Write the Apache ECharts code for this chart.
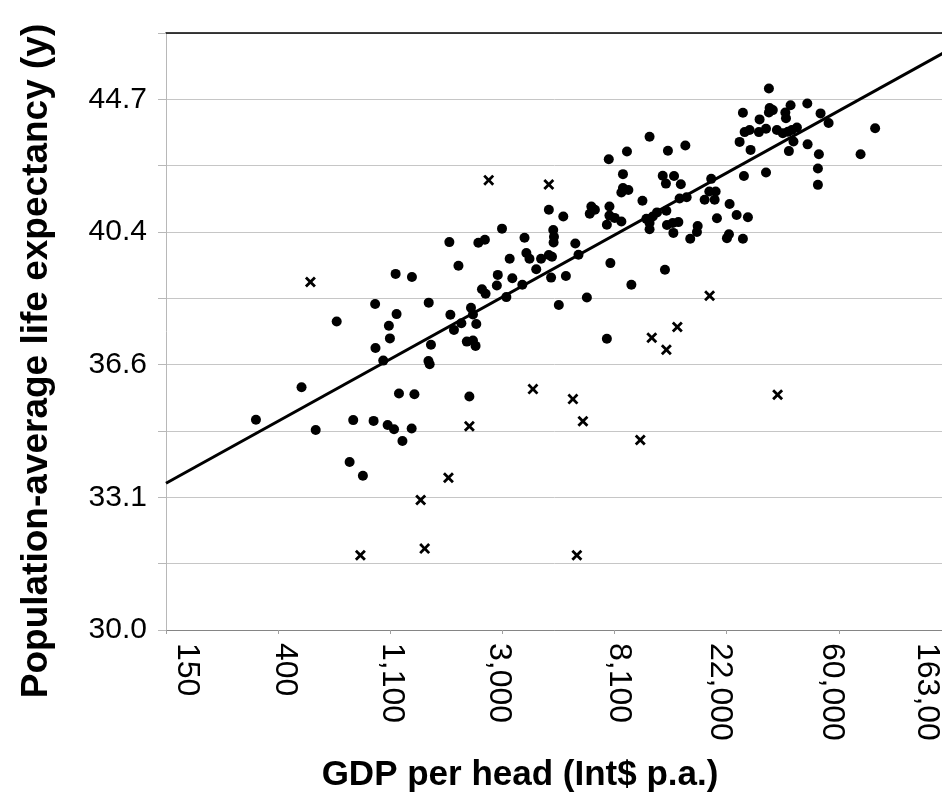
<!DOCTYPE html>
<html>
<head>
<meta charset="utf-8">
<script src="https://cdn.jsdelivr.net/npm/echarts@6/dist/echarts.min.js"></script>
<style>
html,body{margin:0;padding:0;background:#fff;}
#chart{width:942px;height:794px;}
</style>
</head>
<body>
<div id="chart"></div>
<script>
// ---- data ----
const xTickLabels = ['150', '400', '1,100', '3,000', '8,100', '22,000', '60,000', '163,00'];

const gdpDots = [1150, 1330, 958, 1160, 680, 1083, 1093, 961, 1030, 497, 1185, 1360, 331, 564, 788, 945, 1071, 1134, 1327, 1222, 763, 859,
  4510, 5130, 4690, 4720, 4705, 5710, 2970, 3630, 2550, 2405, 1857, 2014, 3180, 3690, 3794, 4207, 4508, 4638, 4030, 2860, 2836, 3256, 3560, 4600, 5250, 2484, 2565, 3087, 4928, 1545, 1874, 2252, 2292, 2067, 2361, 1935,
  1576, 2170, 2292, 2346, 1541, 1558, 2220,
  11070, 9050, 7695, 13040, 15230, 24710, 8733, 12450, 13770, 12810, 14630, 8733, 9164, 8610, 19180, 18860, 19960, 18090, 19780, 22600, 24060, 10390, 14470, 15410, 6587, 6800, 6494, 7741, 7741, 8110, 8610, 7565, 10760, 11390, 11830, 12860, 11070, 11070, 12930, 13610, 14310, 13690, 17000, 16890, 15910, 20190, 22470, 22070, 5875, 7807, 12700, 9413, 6330, 7565,
  32090, 25450, 32290, 33220, 32090, 38930, 45190, 37150, 37370, 29530, 50860, 54640, 25840, 27010, 29350, 31270, 34460, 36320, 38010, 39370, 41190, 82740, 27250, 39940, 38350, 45310, 50110, 72660, 49670, 49670, 25680, 31270, 26610, 25450];

const lifeDots = [39.19, 39.10, 38.31, 38.02, 37.81, 37.69, 37.33, 37.06, 36.71, 35.98, 35.81, 35.79, 35.11, 34.84, 35.10, 35.08, 34.97, 34.86, 34.88, 34.55, 34.01, 33.66,
  41.13, 40.92, 40.51, 40.30, 40.13, 40.10, 40.55, 40.27, 40.21, 40.12, 40.14, 39.43, 39.64, 39.81, 39.64, 39.64, 39.75, 39.70, 39.33, 39.16, 38.85, 39.06, 38.87, 39.08, 39.13, 38.74, 38.61, 38.51, 38.28, 38.35, 38.00, 38.20, 38.01, 37.76, 37.74, 37.57,
  37.15, 37.24, 37.27, 37.12, 36.70, 36.61, 35.73,
  43.46, 42.98, 42.73, 43.00, 43.17, 43.29, 42.25, 42.20, 42.19, 41.95, 41.93, 41.81, 41.75, 41.67, 42.10, 41.70, 41.70, 41.44, 41.44, 41.31, 40.97, 41.41, 41.48, 41.52, 41.23, 41.13, 41.01, 41.23, 40.95, 40.88, 40.77, 40.67, 40.85, 40.92, 41.05, 41.10, 40.72, 40.53, 40.66, 40.72, 40.75, 40.42, 40.63, 40.45, 40.24, 40.87, 40.38, 40.26, 39.76, 39.51, 39.31, 38.87, 38.50, 37.32,
  45.07, 44.25, 44.41, 44.34, 44.26, 44.50, 44.56, 44.26, 44.07, 44.03, 44.23, 43.91, 43.61, 43.68, 43.61, 43.72, 43.68, 43.57, 43.62, 43.68, 43.76, 43.74, 43.03, 43.30, 42.99, 43.21, 42.89, 42.89, 42.43, 41.91, 42.19, 42.30, 40.90, 40.24];

const gdpCrosses = [538, 840, 1438, 1490, 2638, 4508, 3913, 5589, 6110, 2220, 1842, 5789, 18910, 11290, 14180, 12860, 10190, 34680];
const lifeCrosses = [38.95, 31.70, 33.05, 31.86, 42.06, 41.92, 35.93, 35.66, 35.07, 34.94, 33.61, 31.70, 38.55, 37.35, 37.65, 37.01, 34.58, 35.78];

const trendGdp = [148.4, 162755];
const trendLife = [33.47, 46.44];

// ---- layout / style ----
const labelShift = [21, 7, 2, -4, 4, -7, -7, -24];
const FONT = '"Liberation Sans", Arial, sans-serif';

const richX = {};
labelShift.forEach(function (s, i) {
  richX['s' + i] = {
    fontSize: 32, fontFamily: FONT, color: '#000',
    padding: s >= 0 ? [0, 0, 2 * s, 0] : [-2 * s, 0, 0, 0]
  };
});

const dotData = gdpDots.map(function (g, i) { return [g, lifeDots[i]]; });
const crossData = gdpCrosses.map(function (g, i) { return [g, lifeCrosses[i]]; });
const trendData = trendGdp.map(function (g, i) { return [g, trendLife[i]]; });

const xMin = Math.exp(5), xMax = Math.exp(12);
const yMin = Math.exp(3.4), yMax = Math.exp(3.85);

const chart = echarts.init(document.getElementById('chart'), null, { renderer: 'canvas' });
chart.setOption({
  animation: false,
  backgroundColor: '#fff',
  grid: { left: 166, right: -9, top: 33, bottom: 164, containLabel: false, outerBoundsMode: 'none' },
  xAxis: [{
    type: 'log', logBase: Math.E, min: xMin, max: xMax, interval: 1,
    axisLine: { show: true, lineStyle: { color: '#858585', width: 1 } },
    axisTick: { show: true, length: 4, lineStyle: { color: '#a0a0a0' } },
    splitLine: { show: false },
    minorTick: { show: false },
    axisLabel: {
      rotate: -90, margin: 13, fontSize: 32, fontFamily: FONT, color: '#000',
      showMinLabel: true, showMaxLabel: true, hideOverlap: false,
      formatter: function (v) {
        const i = Math.round(Math.log(v)) - 5;
        return '{s' + i + '|' + xTickLabels[i] + '}';
      },
      rich: richX
    }
  }, {
    type: 'log', logBase: Math.E, min: xMin, max: xMax, position: 'top',
    axisLine: { show: true, onZero: false, lineStyle: { color: '#000', width: 1.5 } },
    axisTick: { show: false }, axisLabel: { show: false }, splitLine: { show: false }
  }],
  yAxis: {
    type: 'log', logBase: Math.E, min: yMin, max: yMax, interval: 0.05,
    axisLine: { show: true, lineStyle: { color: '#b8b8b8', width: 1 } },
    axisTick: { show: true, length: 8, lineStyle: { color: '#b8b8b8' } },
    splitLine: { show: true, lineStyle: { color: '#c6c6c6', width: 1 } },
    axisLabel: {
      margin: 19, fontSize: 30, fontFamily: FONT, color: '#000',
      showMinLabel: true, showMaxLabel: true, hideOverlap: false,
      formatter: function (v) {
        const k = Math.round(Math.log(v) * 20);
        return k % 2 === 0 ? v.toFixed(1) : '';
      }
    }
  },
  graphic: [{
    type: 'text', x: 37, y: 361, rotation: Math.PI / 2,
    style: {
      text: 'Population-average life expectancy (y)',
      font: 'bold 37px ' + FONT, fill: '#000',
      textAlign: 'center', textVerticalAlign: 'middle', align: 'center', verticalAlign: 'middle'
    }
  }, {
    type: 'text', x: 520, y: 775,
    style: {
      text: 'GDP per head (Int$ p.a.)',
      font: 'bold 35px ' + FONT, fill: '#000',
      textAlign: 'center', textVerticalAlign: 'middle', align: 'center', verticalAlign: 'middle'
    }
  }],
  series: [{
    type: 'scatter', name: 'dots', data: dotData,
    symbol: 'circle', symbolSize: 10,
    itemStyle: { color: '#000', opacity: 1 }, z: 3
  }, {
    type: 'scatter', name: 'crosses', data: crossData,
    symbol: 'path://M0,1.8L1.8,0L5,3.2L8.2,0L10,1.8L6.8,5L10,8.2L8.2,10L5,6.8L1.8,10L0,8.2L3.2,5Z',
    symbolSize: 11,
    itemStyle: { color: '#000', opacity: 1 }, z: 3
  }, {
    type: 'line', name: 'trend', data: trendData,
    symbol: 'none', lineStyle: { color: '#000', width: 3 }, z: 4
  }]
});
</script>
</body>
</html>
